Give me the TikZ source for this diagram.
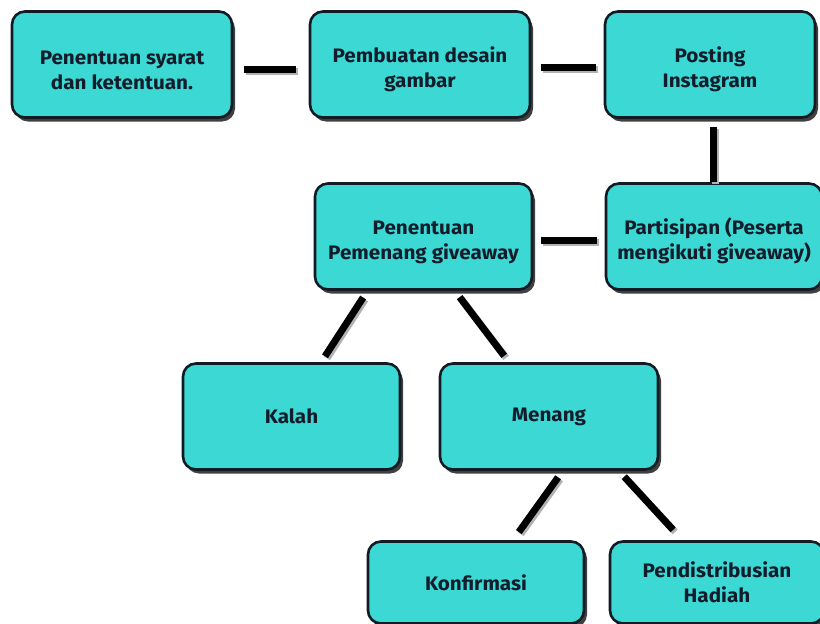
\documentclass[tikz,border=0pt]{standalone}
\usepackage{fontspec}
\setmainfont{Fira Sans}[FakeStretch=1.06]
\usetikzlibrary{shadows}
\definecolor{boxfill}{RGB}{60,216,212}
\definecolor{boxline}{RGB}{18,26,36}
\definecolor{txt}{RGB}{18,28,42}
\newcommand{\lowstrut}{\rule{0pt}{26pt}}
\begin{document}
\begin{tikzpicture}[x=1pt,y=-1pt,
  stepbox/.style={draw=boxline, line width=2.6pt, fill=boxfill, rounded corners=13pt,
    minimum height=106pt, align=center, text=txt,
    font=\fontsize{19.5}{25}\selectfont\bfseries,
    drop shadow={shadow xshift=3pt, shadow yshift=-4pt, opacity=0.75, fill=black}},
  link/.style={draw=black, line width=7pt,
    preaction={draw=black!30, line width=7pt, transform canvas={shift={(2pt,-2pt)}}}}
]
\useasboundingbox (0,0) rectangle (820,624);
\node[stepbox, minimum width=220pt] (b1) at (122,64.5) {\lowstrut Penentuan syarat\\dan ketentuan.};
\node[stepbox, minimum width=220pt] (b2) at (420,64.5) {\lowstrut Pembuatan desain\\gambar};
\node[stepbox, minimum width=210pt] (b3) at (710,64.5) {\lowstrut Posting\\Instagram};
\node[stepbox, minimum width=216pt] (b4) at (714,236.5) {\lowstrut Partisipan (Peserta\\mengikuti giveaway)};
\node[stepbox, minimum width=217pt] (b5) at (423.5,236.5) {\lowstrut Penentuan\\Pemenang giveaway};
\node[stepbox, minimum width=217pt] (kalah) at (291.5,416.5) {Kalah};
\node[stepbox, minimum width=218pt] (menang) at (549,416.5) {Menang};
\node[stepbox, minimum width=216pt, minimum height=82pt] (konf) at (476,582.5) {Konfirmasi};
\node[stepbox, minimum width=214pt, minimum height=82pt] (hadiah) at (717,582.5) {Pendistribusian\\Hadiah};

\draw[link, shorten <=11pt, shorten >=13pt] ([yshift=-5pt]b1.east) -- ([yshift=-5pt]b2.west);
\draw[link, shorten <=10pt, shorten >=8pt] ([yshift=-3pt]b2.east) -- ([yshift=-3pt]b3.west);
\draw[link, shorten <=8pt] ([xshift=3pt]b3.south) -- ([xshift=-1pt]b4.north);
\draw[link, shorten <=8pt, shorten >=8pt] ([yshift=-4pt]b4.west) -- ([yshift=-4pt]b5.east);
\draw[link, shorten <=8pt, shorten >=7pt] ([xshift=-56pt]b5.south) -- ([xshift=29.7pt]kalah.north);
\draw[link, shorten <=8pt, shorten >=8pt] ([xshift=31.3pt]b5.south) -- ([xshift=-40pt]menang.north);
\draw[link, shorten <=8pt, shorten >=10pt] ([xshift=13.8pt]menang.south) -- ([xshift=37pt]konf.north);
\draw[link, shorten <=8pt, shorten >=14pt] ([xshift=69.8pt]menang.south) -- ([xshift=-34.4pt]hadiah.north);
\end{tikzpicture}
\end{document}
